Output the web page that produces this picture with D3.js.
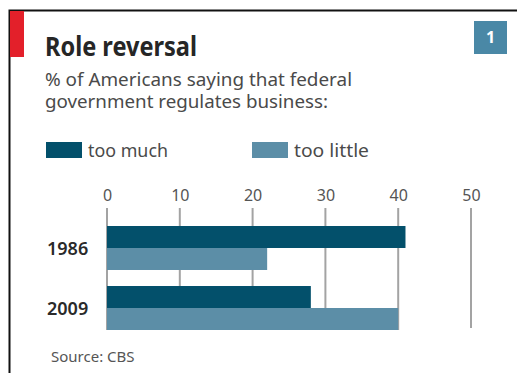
<!DOCTYPE html>
<html>
<head>
<meta charset="utf-8">
<script src="https://cdn.jsdelivr.net/npm/d3@7"></script>
<style>
  body { margin: 0; background: #fff; }
  text { font-family: "Noto Sans", sans-serif; }
</style>
</head>
<body>
<script>
var years = ["1986", "2009"]
var series = ["too much", "too little"]
var tooMuch = [41, 28]
var tooLittle = [22, 40]
var ticks = [0, 10, 20, 30, 40, 50]

var colors = { "too much": "#03506b", "too little": "#5c8ea7" }

var d = d3.select("body").append("svg")
    .attr("width", 517)
    .attr("height", 373)

// frame: black rule along top and left, red tag
d.append("path")
    .attr("d", "M9.5,373V10.5H517")
    .attr("fill", "none")
    .attr("stroke", "#111")
    .attr("stroke-width", 2)
d.append("rect")
    .attr("x", 10).attr("y", 11)
    .attr("width", 14).attr("height", 46)
    .attr("fill", "#e3202a")

// badge
d.append("rect")
    .attr("x", 474).attr("y", 21)
    .attr("width", 33).attr("height", 33)
    .attr("fill", "#4a88a6")
d.append("text")
    .attr("x", 490.5).attr("y", 43)
    .attr("text-anchor", "middle")
    .attr("fill", "#fff")
    .attr("font-size", 16)
    .attr("font-weight", "bold")
    .text("1")

// title + subtitle
d.append("text")
    .attr("x", 45).attr("y", 56)
    .attr("font-size", 26)
    .attr("font-weight", "bold")
    .attr("fill", "#262626")
    .attr("textLength", 152)
    .attr("lengthAdjust", "spacingAndGlyphs")
    .text("Role reversal")

var sub = ["% of Americans saying that federal", "government regulates business:"]
var subW = [307, 283]
sub.forEach(function (s, i) {
    d.append("text")
        .attr("x", 45).attr("y", 86 + i * 22)
        .attr("font-family", "Lato, sans-serif")
        .attr("font-size", 18)
        .attr("fill", "#4a4a4a")
        .attr("textLength", subW[i])
        .attr("lengthAdjust", "spacingAndGlyphs")
        .text(s)
})

// legend
var legendX = [46, 252]
var legendW = [80, 75]
series.forEach(function (s, i) {
    d.append("rect")
        .attr("x", legendX[i]).attr("y", 142)
        .attr("width", 36).attr("height", 16)
        .attr("fill", colors[s])
    d.append("text")
        .attr("x", legendX[i] + 42).attr("y", 157)
        .attr("font-size", 18)
        .attr("fill", "#4a4a4a")
        .attr("textLength", legendW[i])
        .attr("lengthAdjust", "spacingAndGlyphs")
        .text(s)
})

// scales
var x = d3.scaleLinear().domain([0, 50]).range([107, 471])
var y = d3.scaleBand().domain(years).range([226, 330]).paddingInner(0.267).paddingOuter(0)
var ys = d3.scaleBand().domain(series).range([0, y.bandwidth()])

// axis labels on top, grid lines drawn by hand from tick values
var axis = d.append("g")
    .attr("transform", "translate(0,208)")
    .call(d3.axisTop(x).tickValues(ticks).tickSize(0).tickPadding(7))
axis.select(".domain").remove()
axis.selectAll("text")
    .attr("font-family", "Noto Sans, sans-serif")
    .attr("font-size", 16)
    .attr("fill", "#555")

d.append("g").selectAll("line")
    .data(ticks)
    .join("line")
    .attr("x1", function (t) { return x(t) })
    .attr("x2", function (t) { return x(t) })
    .attr("y1", 208)
    .attr("y2", function (t) { return t == 50 ? 328 : 330 })
    .attr("stroke", "#a3a3a3")
    .attr("stroke-width", 2)

// bars
var rows = years.map(function (yr, i) {
    return [
        { year: yr, s: "too much", v: tooMuch[i] },
        { year: yr, s: "too little", v: tooLittle[i] }
    ]
}).flat()

d.append("g").selectAll("rect")
    .data(rows)
    .join("rect")
    .attr("x", x(0))
    .attr("y", function (r) { return y(r.year) + ys(r.s) })
    .attr("width", function (r) { return x(r.v) - x(0) })
    .attr("height", ys.bandwidth())
    .attr("fill", function (r) { return colors[r.s] })

// year labels
d.append("g").selectAll("text")
    .data(years)
    .join("text")
    .attr("x", 47)
    .attr("y", function (yr) { return y(yr) + y.bandwidth() / 2 + 7 })
    .attr("font-size", 18)
    .attr("font-weight", 600)
    .attr("fill", "#2a2a2a")
    .text(function (yr) { return yr })

// source
d.append("text")
    .attr("x", 51).attr("y", 362)
    .attr("font-size", 15)
    .attr("fill", "#555")
    .text("Source: CBS")
</script>
</body>
</html>
